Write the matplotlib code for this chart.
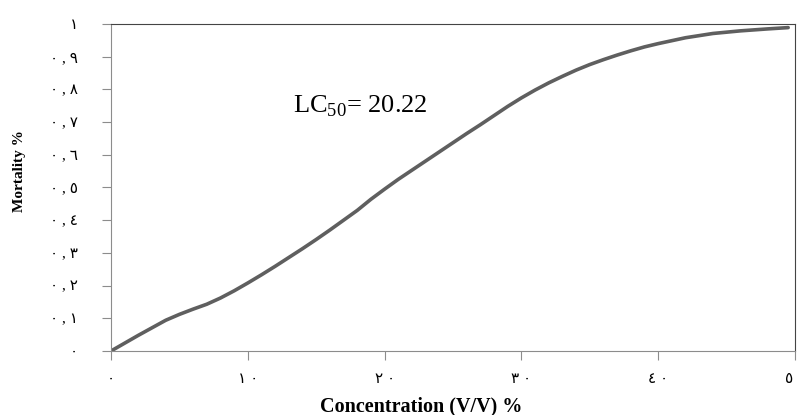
#!/usr/bin/env python3

import matplotlib
matplotlib.use('Agg')
import matplotlib.pyplot as plt

# values
conc = [0, 1, 2, 3, 4, 5, 6, 7, 8, 9, 10, 11, 12, 13, 14, 15, 16, 17, 18, 19, 20,
        21, 22, 23, 24, 25, 26, 27, 28, 29, 30, 31, 32, 33, 34, 35, 36, 37, 38, 39,
        40, 42, 44, 46, 48, 49.5]
mortality = [0, 0.024, 0.048, 0.071, 0.094, 0.112, 0.128, 0.143, 0.162, 0.184, 0.208,
             0.233, 0.259, 0.286, 0.313, 0.341, 0.37, 0.4, 0.43, 0.464, 0.495,
             0.525, 0.553, 0.581, 0.609, 0.637, 0.665, 0.692, 0.72, 0.748, 0.774,
             0.798, 0.82, 0.84, 0.859, 0.876, 0.891, 0.905, 0.918, 0.93,
             0.94, 0.958, 0.971, 0.979, 0.985, 0.989]

yticks = [0, 0.1, 0.2, 0.3, 0.4, 0.5, 0.6, 0.7, 0.8, 0.9, 1.0]
ytick_labels = ['٠', '٠ , ١', '٠ , ٢', '٠ , ٣', '٠ , ٤', '٠ , ٥', '٠ , ٦', '٠ , ٧',
                '٠ , ٨', '٠ , ٩', '١']
xticks = [0, 10, 20, 30, 40, 50]
xtick_labels = ['٠', '١ ٠', '٢ ٠', '٣ ٠', '٤ ٠', '٥ ٠']

fams = ['Liberation Serif', 'DejaVu Sans']

fig = plt.figure(figsize=(7.97, 4.15), dpi=100)
ax = fig.add_axes([111/797, 1 - 351/415, 684/797, 327/415])

ax.plot(conc, mortality, color='#5f5f5f', linewidth=2.6, solid_capstyle='round')

ax.set_xlim(0, 50)
ax.set_ylim(0, 1)
ax.set_xticks(xticks)
ax.set_xticklabels(xtick_labels, family=fams, fontsize=11)
ax.set_yticks(yticks)
ax.set_yticklabels(ytick_labels, family=fams, fontsize=11)
ax.tick_params(axis='y', direction='out', length=6.5, width=0.8, color='#8c8c8c', pad=17)
ax.tick_params(axis='x', direction='out', length=6.5, width=0.8, color='#8c8c8c', pad=9)

for s in ['left', 'bottom']:
    ax.spines[s].set_color('#8c8c8c')
for s in ['top', 'right']:
    ax.spines[s].set_color('#444444')

ax.text(13.3, 0.728, 'LC$_{\\mathregular{50}}$= 20.22', family='Liberation Serif', fontsize=19,
        va='baseline', ha='left')

fig.text(421/797, 1 - 406/415, 'Concentration (V/V) %', family='Liberation Serif',
         fontweight='bold', fontsize=14.5, ha='center', va='center')
fig.text(20/797, 1 - 171/415, 'Mortality %', family='Liberation Serif',
         fontweight='bold', fontsize=11, ha='center', va='center', rotation=90)

fig.savefig('out.png', dpi=100)
